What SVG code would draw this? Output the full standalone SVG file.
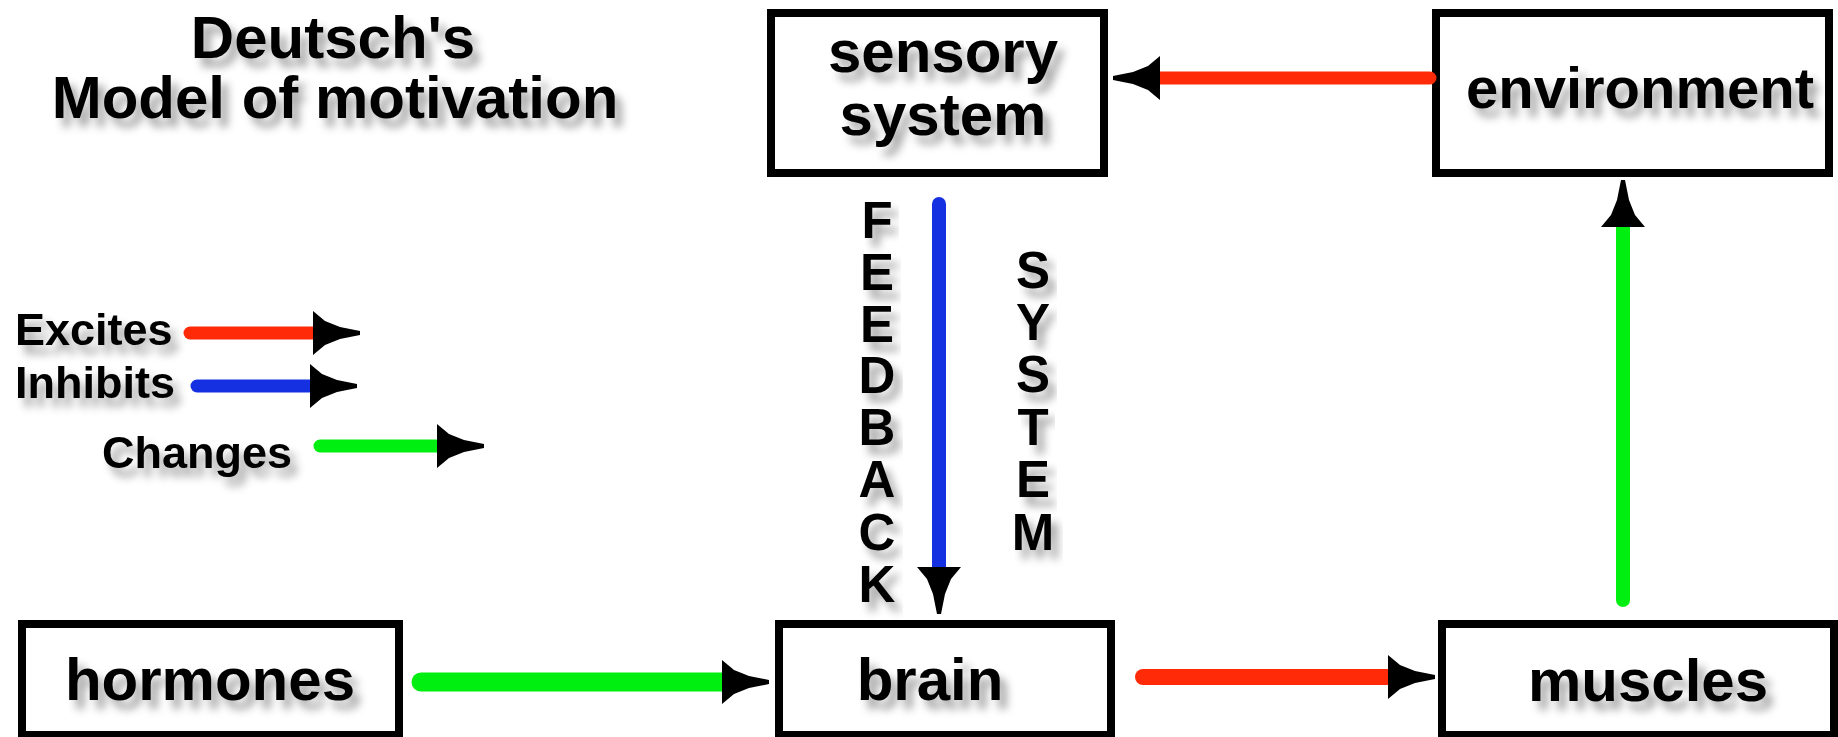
<svg xmlns="http://www.w3.org/2000/svg" width="1838" height="737" viewBox="0 0 1838 737">
<defs>
<style>
text{font-family:"Liberation Sans",Arial,sans-serif;font-weight:bold;fill:#000;filter:url(#shadow)}
.t60{font-size:60px;text-anchor:middle}
.t58{font-size:58px;text-anchor:middle}
.leg{font-size:45px}
.vert{font-size:51px;text-anchor:middle}
.box{fill:#fff;stroke:#000;stroke-width:8}
.red{stroke:#ff2a08;fill:none;stroke-linecap:round}
.blue{stroke:#1530e0;fill:none;stroke-linecap:round}
.green{stroke:#00ee10;fill:none;stroke-linecap:round}
</style>
<filter id="shadow" x="-10%" y="-20%" width="130%" height="160%">
<feGaussianBlur in="SourceAlpha" stdDeviation="4"/>
<feOffset dx="7" dy="9" result="b"/>
<feFlood flood-color="#000" flood-opacity="0.35"/>
<feComposite in2="b" operator="in" result="s"/>
<feMerge><feMergeNode in="s"/><feMergeNode in="SourceGraphic"/></feMerge>
</filter>
<marker id="head" markerUnits="userSpaceOnUse" viewBox="0 -24 48 48" refX="0" refY="0" markerWidth="48" markerHeight="48" orient="auto" overflow="visible">
<path d="M0,-22 L12,-12 L27,-6 L47,-2 L47,2 L27,6 L12,12 L0,22 Z" fill="#000"/>
</marker>
</defs>

<g id="title">
<text class="t60" x="333" y="58">Deutsch's</text>
<text class="t60" x="335" y="118">Model of motivation</text>
</g>

<g id="legend">
<text class="leg" x="15" y="345">Excites</text>
<text class="leg" x="15" y="398">Inhibits</text>
<text class="leg" x="102" y="468">Changes</text>
<line class="red" x1="190" y1="333" x2="313" y2="333" stroke-width="13" marker-end="url(#head)"/>
<line class="blue" x1="197" y1="386" x2="310" y2="386" stroke-width="13" marker-end="url(#head)"/>
<line class="green" x1="320" y1="446" x2="437" y2="446" stroke-width="13" marker-end="url(#head)"/>
</g>

<g id="sensory">
<rect class="box" x="771" y="13" width="333" height="160"/>
<text class="t60" x="943" y="72">sensory</text>
<text class="t60" x="943" y="135">system</text>
</g>

<g id="environment">
<rect class="box" x="1436" y="13" width="393" height="160"/>
<text class="t58" x="1640" y="108">environment</text>
</g>

<g id="hormones">
<rect class="box" x="22" y="624" width="377" height="111"/>
<text class="t60" x="210" y="700">hormones</text>
</g>

<g id="brain">
<rect class="box" x="779" y="624" width="332" height="111"/>
<text class="t60" x="930" y="700">brain</text>
</g>

<g id="muscles">
<rect class="box" x="1442" y="624" width="392" height="111"/>
<text class="t60" x="1648" y="701">muscles</text>
</g>

<g id="feedback-label">
<text class="vert" x="877" y="238">F</text>
<text class="vert" x="877" y="290">E</text>
<text class="vert" x="877" y="342">E</text>
<text class="vert" x="877" y="393">D</text>
<text class="vert" x="877" y="445">B</text>
<text class="vert" x="877" y="497">A</text>
<text class="vert" x="877" y="550">C</text>
<text class="vert" x="877" y="602">K</text>
<text class="vert" x="1033" y="288">S</text>
<text class="vert" x="1033" y="340">Y</text>
<text class="vert" x="1033" y="392">S</text>
<text class="vert" x="1033" y="445">T</text>
<text class="vert" x="1033" y="497">E</text>
<text class="vert" x="1033" y="550">M</text>
</g>

<g id="connectors">
<line class="red" x1="1430" y1="78" x2="1160" y2="78" stroke-width="13" stroke-linecap="butt" marker-end="url(#head)"/>
<line class="blue" x1="939" y1="204" x2="939" y2="567" stroke-width="14" marker-end="url(#head)"/>
<line class="green" x1="1623" y1="600" x2="1623" y2="227" stroke-width="14" marker-end="url(#head)"/>
<line class="green" x1="421" y1="682" x2="722" y2="682" stroke-width="19" marker-end="url(#head)"/>
<line class="red" x1="1143" y1="677" x2="1388" y2="677" stroke-width="16" marker-end="url(#head)"/>
</g>
</svg>
